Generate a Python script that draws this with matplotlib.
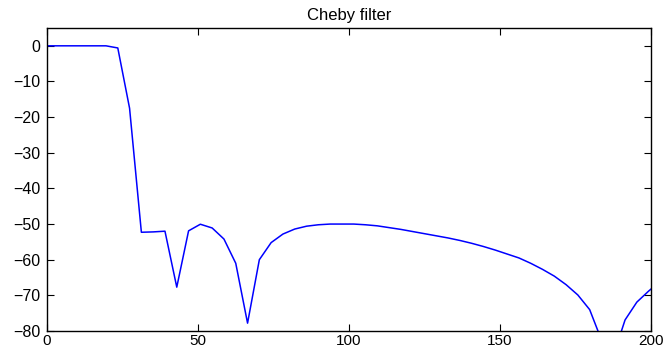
import matplotlib
matplotlib.use("Agg")
import matplotlib.pyplot as plt

plt.rcParams['font.family'] = ['Liberation Sans', 'DejaVu Sans']

freq = [0.00, 3.91, 7.81, 11.72, 15.63, 19.53, 23.44, 27.34, 31.25, 35.16,
        39.06, 42.97, 46.88, 50.78, 54.69, 58.59, 62.50, 66.41, 70.31, 74.22,
        78.13, 82.03, 85.94, 89.84, 93.75, 97.66, 101.56, 105.47, 109.38, 113.28,
        117.19, 121.09, 125.00, 128.91, 132.81, 136.72, 140.63, 144.53, 148.44, 152.34,
        156.25, 160.16, 164.06, 167.97, 171.88, 175.78, 179.69, 183.59, 187.50, 191.41,
        195.31, 199.22, 203.13]
mag_db = [0.0, 0.0, 0.0, 0.0, 0.0, 0.0, -0.6, -17.5, -52.3, -52.2,
          -52.0, -67.7, -51.9, -50.05, -51.1, -54.2, -61.0, -77.8, -60.0, -55.2,
          -52.8, -51.4, -50.6, -50.2, -50.0, -50.0, -50.0, -50.2, -50.5, -51.0,
          -51.5, -52.1, -52.7, -53.3, -53.9, -54.6, -55.4, -56.3, -57.3, -58.4,
          -59.5, -61.0, -62.7, -64.6, -67.0, -69.9, -74.0, -82.5, -87.0, -76.9,
          -71.9, -68.8, -66.0]

title = "Cheby filter"
xticks = [0, 50, 100, 150, 200]
yticks = [0, -10, -20, -30, -40, -50, -60, -70, -80]

fig = plt.figure(figsize=(6.66, 3.51), dpi=100)
ax = fig.add_axes([47/666, 20/351, 604/666, 303/351])
ax.plot(freq, mag_db, color=(0, 0, 1), lw=1.1)
ax.set_xlim(0, 200)
ax.set_ylim(-80, 5)
ax.set_xticks(xticks)
ax.set_yticks(yticks)
ax.tick_params(direction='in', length=5, width=0.8, top=True, right=True,
               labelsize=11.5, colors='black')
ax.tick_params(axis='y', pad=5)
ax.tick_params(axis='x', pad=2, labelsize=11)
for s in ax.spines.values():
    s.set_linewidth(1.0)
    s.set_color('black')
ax.set_title(title, fontsize=12, pad=6)
fig.savefig("out.png", dpi=100)
